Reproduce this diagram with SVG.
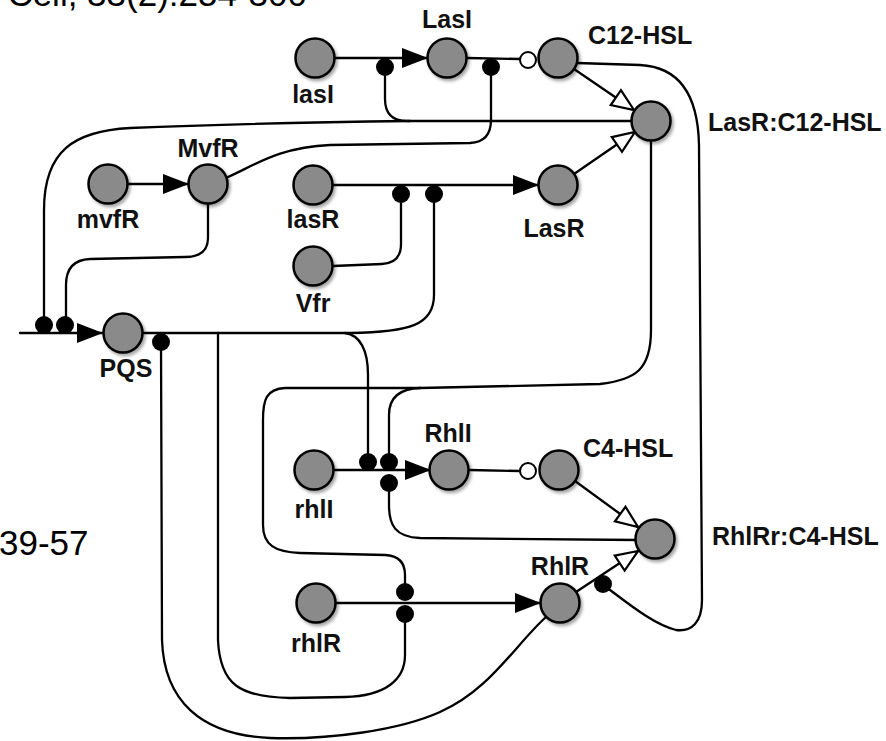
<svg xmlns="http://www.w3.org/2000/svg" width="886" height="741" viewBox="0 0 886 741">
<style>
.bg{fill:#fff}
.node{fill:#8a8a8a;stroke:#000;stroke-width:2.5;filter:url(#sh)}
.lbl{font-family:"Liberation Sans",Arial,Helvetica,sans-serif;font-weight:bold;font-size:25px;fill:#111}
.cap{font-family:"Liberation Sans",Arial,Helvetica,sans-serif;font-size:35px;fill:#000}
.c{text-anchor:middle}
.ln{fill:none;stroke:#000;stroke-width:2.3;stroke-linecap:round}
.act{marker-end:url(#fa)}
.bind{marker-end:url(#oa)}
.dot{fill:#000}
.deg{fill:#fff;stroke:#000;stroke-width:2}
</style>
<defs>
<filter id="sh" x="-30%" y="-30%" width="170%" height="170%">
<feDropShadow dx="2" dy="2.5" stdDeviation="1.6" flood-color="#000" flood-opacity="0.35"/>
</filter>
<marker id="fa" viewBox="0 0 26 20" refX="25" refY="10" markerWidth="26" markerHeight="20" markerUnits="userSpaceOnUse" orient="auto">
<path d="M0,0 L26,10 L0,20 z" fill="#000"/>
</marker>
<marker id="oa" viewBox="0 0 26 22" refX="24" refY="11" markerWidth="26" markerHeight="22" markerUnits="userSpaceOnUse" orient="auto">
<path d="M2,2 L24,11 L2,20 z" fill="#fff" stroke="#000" stroke-width="2.2" stroke-linejoin="miter"/>
</marker>
</defs>
<rect class="bg" x="0" y="0" width="886" height="741"/>
<text class="cap" x="307" y="6" text-anchor="end">Cell, 33(2):254-300</text>
<text class="cap" x="-1" y="555">39-57</text>

<g id="connectors">
<path class="ln act" d="M335,58 L427,58"/>
<path class="ln" d="M467,58 L520,59"/>
<path class="ln bind" d="M574,69 L634,110"/>
<path class="ln bind" d="M574,174 L635,132"/>
<path class="ln act" d="M128,184 L188,184"/>
<path class="ln act" d="M333,185 L538,185"/>
<path class="ln act" d="M334,470 L430,470"/>
<path class="ln" d="M469,470 L520,471"/>
<path class="ln bind" d="M575,481 L638,527"/>
<path class="ln act" d="M336,603 L540,603"/>
<path class="ln bind" d="M576,592 L638,551"/>
<path class="ln act" d="M20,333 L102,333"/>
<path class="ln" d="M632,121 L407,121 Q385,121 385,99 L385,67"/>
<path class="ln" d="M410,121 C330,122 200,125 130,128 C75,131 44,150 44,210 L44,325"/>
<path class="ln" d="M228,177 C255,165 280,147 330,145 L470,143 Q491,142 491,120 L491,67"/>
<path class="ln" d="M208,203 L208,238 Q208,257 185,257 L90,259 Q66,260 66,285 L66,325"/>
<path class="ln" d="M333,266 L382,264 Q401,263 401,244 L401,194"/>
<path class="ln" d="M143,333 L350,333 C410,332 434,325 434,295 L434,194"/>
<path class="ln" d="M345,333 C360,335 368,350 368,375 L368,462"/>
<path class="ln" d="M218,333 L218,640 C220,685 240,697 290,698 L345,697 C385,696 405,680 405,655 L405,613"/>
<path class="ln" d="M161,342 L162,640 C164,700 200,735 270,738 C330,740 400,730 440,712 C490,690 515,645 546,617"/>
<path class="ln" d="M651,141 L651,330 C651,370 635,380 600,384 L420,388"/>
<path class="ln" d="M420,388 Q389,389 389,415 L389,462"/>
<path class="ln" d="M420,388 L285,388 C266,389 263,400 263,420 L263,525 C263,545 275,552 300,553 L385,555 Q405,556 405,575 L405,592"/>
<path class="ln" d="M637,540 L420,538 C395,537 389,525 389,505 L389,483"/>
<path class="ln" d="M577,63 L640,65 C680,67 698,95 699,145 L702,600 C702,622 692,632 676,630 C655,625 630,605 610,590"/>
<circle class="deg" cx="528" cy="60" r="8"/>
<circle class="deg" cx="528" cy="471" r="8"/>
<circle class="dot" cx="385" cy="67" r="9"/>
<circle class="dot" cx="491" cy="67" r="9"/>
<circle class="dot" cx="401" cy="194" r="9"/>
<circle class="dot" cx="434" cy="194" r="9"/>
<circle class="dot" cx="44" cy="325" r="9"/>
<circle class="dot" cx="65" cy="325" r="9"/>
<circle class="dot" cx="161" cy="342" r="9"/>
<circle class="dot" cx="368" cy="462" r="9"/>
<circle class="dot" cx="389" cy="462" r="9"/>
<circle class="dot" cx="389" cy="483" r="9"/>
<circle class="dot" cx="405" cy="592" r="9"/>
<circle class="dot" cx="405" cy="614" r="9"/>
<circle class="dot" cx="603" cy="584" r="9"/>
</g>

<g id="lasI"><circle class="node" cx="315" cy="58" r="19.5"/><text class="lbl c" x="313" y="103">lasI</text></g>
<g id="LasI"><circle class="node" cx="447" cy="58" r="19.5"/><text class="lbl c" x="447" y="28">LasI</text></g>
<g id="C12-HSL"><circle class="node" cx="558" cy="58" r="19.5"/><text class="lbl" x="588" y="44">C12-HSL</text></g>
<g id="LasR-C12-HSL"><circle class="node" cx="651" cy="121" r="19.5"/><text class="lbl" x="708" y="131">LasR:C12-HSL</text></g>
<g id="mvfR"><circle class="node" cx="108" cy="184" r="19.5"/><text class="lbl c" x="108" y="228">mvfR</text></g>
<g id="MvfR"><circle class="node" cx="208" cy="184" r="19.5"/><text class="lbl c" x="208" y="157">MvfR</text></g>
<g id="lasR"><circle class="node" cx="313" cy="185" r="19.5"/><text class="lbl c" x="313" y="228">lasR</text></g>
<g id="LasR"><circle class="node" cx="558" cy="185" r="19.5"/><text class="lbl c" x="554" y="237">LasR</text></g>
<g id="Vfr"><circle class="node" cx="313" cy="266" r="19.5"/><text class="lbl c" x="313" y="312">Vfr</text></g>
<g id="PQS"><circle class="node" cx="123" cy="333" r="19.5"/><text class="lbl c" x="126" y="377">PQS</text></g>
<g id="rhlI"><circle class="node" cx="314" cy="470" r="19.5"/><text class="lbl c" x="314" y="518">rhlI</text></g>
<g id="RhlI"><circle class="node" cx="449" cy="470" r="19.5"/><text class="lbl c" x="448" y="442">RhlI</text></g>
<g id="C4-HSL"><circle class="node" cx="559" cy="470" r="19.5"/><text class="lbl" x="583" y="457">C4-HSL</text></g>
<g id="RhlRr-C4-HSL"><circle class="node" cx="655" cy="539" r="19.5"/><text class="lbl" x="712" y="545">RhlRr:C4-HSL</text></g>
<g id="rhlR"><circle class="node" cx="316" cy="603" r="19.5"/><text class="lbl c" x="316" y="652">rhlR</text></g>
<g id="RhlR"><circle class="node" cx="560" cy="603" r="19.5"/><text class="lbl c" x="560" y="575">RhlR</text></g>
</svg>
